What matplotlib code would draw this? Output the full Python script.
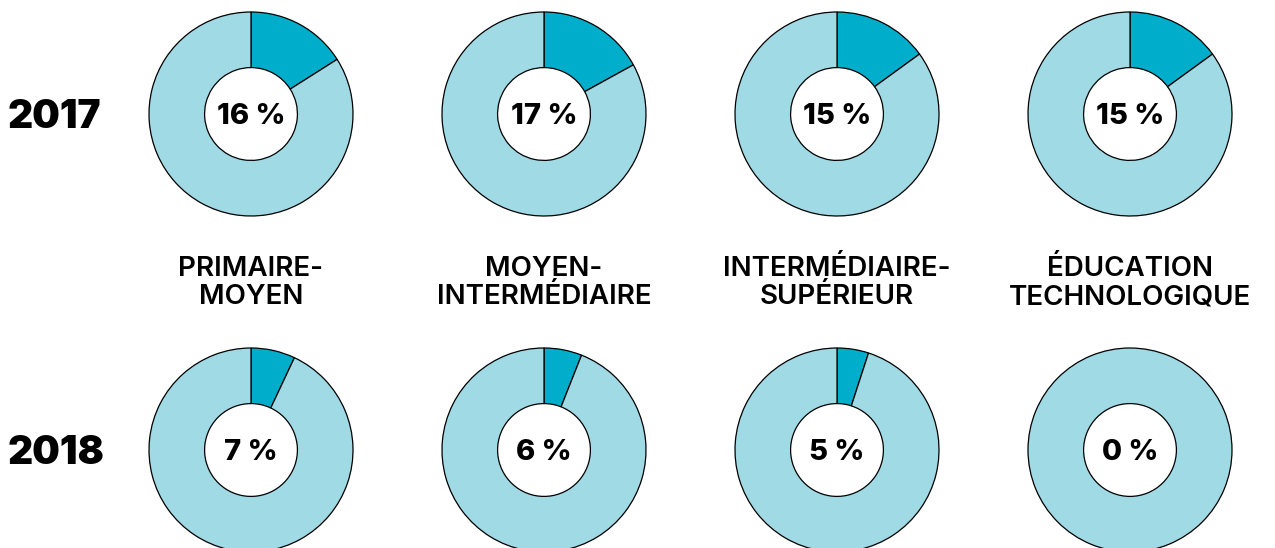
import matplotlib
matplotlib.use("Agg")
import matplotlib.pyplot as plt

# data
years = ["2017", "2018"]
categories = ["PRIMAIRE-\nMOYEN", "MOYEN-\nINTERMÉDIAIRE",
              "INTERMÉDIAIRE-\nSUPÉRIEUR", "ÉDUCATION\nTECHNOLOGIQUE"]
values_2017 = [16, 17, 15, 15]
values_2018 = [7, 6, 5, 0]

dark = "#00aecb"
light = "#a0dae5"

W, H = 1275, 548
fig = plt.figure(figsize=(W / 100, H / 100), dpi=100)
ax = fig.add_axes([0, 0, 1, 1])
ax.set_xlim(0, W)
ax.set_ylim(0, H)
ax.set_aspect("equal")
ax.axis("off")

xs = [251, 544, 837, 1130]
row_y = [H - 114, H - 450]
r = 102

for row, vals in enumerate([values_2017, values_2018]):
    for x, v in zip(xs, vals):
        sizes = [v, 100 - v] if v > 0 else [100]
        cols = [dark, light] if v > 0 else [light]
        ax.pie(sizes, colors=cols, startangle=90, counterclock=False,
               center=(x, row_y[row]), radius=r,
               wedgeprops=dict(width=r * 0.545, edgecolor="black", linewidth=0.9))
        ax.text(x, row_y[row] - 3, f"{v} %", ha="center", va="center",
                fontsize=21, fontweight="heavy", family="Inter")
    ax.text(8, row_y[row] - 4, years[row], ha="left", va="center",
            fontsize=28, fontweight="black", family="Inter")

for x, c in zip(xs, categories):
    ax.text(x, H - 283, c, ha="center", va="center", fontsize=20,
            fontweight="semibold", family="Inter", linespacing=1.12)

ax.set_xlim(0, W)
ax.set_ylim(0, H)

fig.savefig("out.png", dpi=100)
